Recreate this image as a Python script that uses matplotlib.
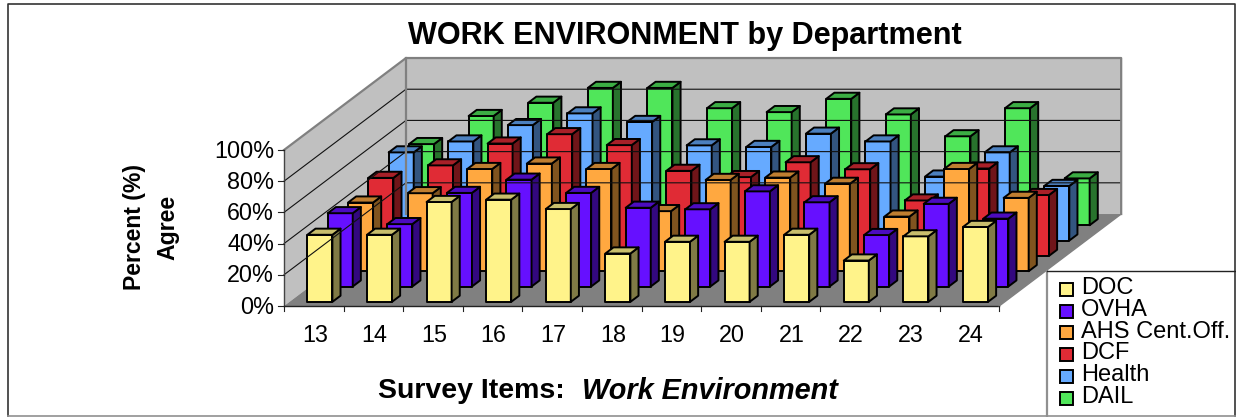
import matplotlib
matplotlib.use('Agg')
import matplotlib.pyplot as plt
from matplotlib.patches import Polygon, Rectangle

plt.rcParams['font.family'] = ['Liberation Sans', 'DejaVu Sans']

items = ['13', '14', '15', '16', '17', '18', '19', '20', '21', '22', '23', '24']
departments = ['DOC', 'OVHA', 'AHS Cent.Off.', 'DCF', 'Health', 'DAIL']
y_ticks = [0, 20, 40, 60, 80, 100]

doc = [43, 43, 64, 65.5, 59.5, 31, 38.5, 38.5, 43, 26.5, 42, 48]
ovha = [47, 40, 60, 68.5, 60, 50.5, 49.5, 61, 54, 33, 53, 43.5]
ahs = [44, 50, 65.5, 69, 65.5, 38.5, 58.5, 60, 56, 35, 65.5, 47]
dcf = [50, 58, 72, 78, 71, 54.5, 50.5, 60, 55.5, 35.5, 56, 39]
health = [56.5, 63.5, 74, 81.5, 76, 61, 60, 68.5, 63.5, 41, 56.5, 35]
dail = [52, 70, 78.5, 88, 88, 75, 72.5, 81, 71, 57, 75, 30]
series = [doc, ovha, ahs, dcf, health, dail]

# front, side, top
colors = [
    ('#FFF38A', '#807A45', '#C8BE6C'),
    ('#6610FF', '#33087F', '#4C0CBF'),
    ('#FFA840', '#80541F', '#BF7E30'),
    ('#E02B35', '#701519', '#A82028'),
    ('#66AAFF', '#335580', '#4C80BF'),
    ('#50E65A', '#28732D', '#3CAD44'),
]

X0, Y0 = 284, 306
CAT_W = 59.6
ROW_DX, ROW_DY = 20.33, 15.33
PX_PER_PCT = 1.56
LW = 1.4


def project(cat, row, val):
    # oblique projection of the 3d chart onto pixels
    return X0 + cat * CAT_W + row * ROW_DX, Y0 - val * PX_PER_PCT - row * ROW_DY


def face(ax, corners, fc, ec='none', lw=0):
    ax.add_patch(Polygon([project(*c) for c in corners], closed=True, fc=fc, ec=ec,
                         lw=lw, joinstyle='round'))


def draw_bar(ax, i, r, val, cols):
    x1, x2 = i + 0.3, i + 0.72
    d1, d2 = r + 0.27, r + 0.67
    face(ax, [(x1, d1, 0), (x2, d1, 0), (x2, d1, val), (x1, d1, val)], cols[0], 'black', LW)
    face(ax, [(x2, d1, 0), (x2, d2, 0), (x2, d2, val), (x2, d1, val)], cols[1], 'black', LW)
    face(ax, [(x1, d1, val), (x2, d1, val), (x2, d2, val), (x1, d2, val)], cols[2], 'black', LW)


fig = plt.figure(figsize=(12.36, 4.17), dpi=100)
ax = fig.add_axes([0, 0, 1, 1])
ax.set_xlim(0, 1236)
ax.set_ylim(417, 0)
ax.axis('off')

n_cat = len(items)
n_row = len(series)

# outer frame
ax.plot([8, 8, 1235, 1235], [416, 4, 4, 416], color='#333333', lw=1.2)
ax.plot([8, 1235], [416, 416], color='#909090', lw=1.2)

# walls and floor
face(ax, [(0, 0, 0), (0, n_row, 0), (0, n_row, 100), (0, 0, 100)], '#C0C0C0')
face(ax, [(0, n_row, 0), (n_cat, n_row, 0), (n_cat, n_row, 100), (0, n_row, 100)], '#C0C0C0')
face(ax, [(0, 0, 0), (n_cat, 0, 0), (n_cat, n_row, 0), (0, n_row, 0)], '#808080')

for v in y_ticks[1:-1]:
    pts = [project(0, 0, v), project(0, n_row, v), project(n_cat, n_row, v)]
    ax.plot(*zip(*pts), color='#111111', lw=0.8)

edge = [project(0, 0, 100), project(0, n_row, 100), project(n_cat, n_row, 100), project(n_cat, n_row, 0)]
ax.plot(*zip(*edge), color='#808080', lw=1.6)
edge = [project(0, n_row, 0), project(0, n_row, 100)]
ax.plot(*zip(*edge), color='#808080', lw=1.6)

# axes lines and ticks
ax.plot(*zip(project(0, 0, 0), project(0, 0, 100)), color='#444444', lw=1.0)
ax.plot(*zip(project(0, 0, 0), project(n_cat, 0, 0)), color='#222222', lw=1.0)
ax.plot(*zip(project(n_cat, 0, 0), project(n_cat, n_row, 0)), color='#808080', lw=1.0)
for v in y_ticks:
    x, y = project(0, 0, v)
    ax.plot([x - 6, x], [y, y], color='#222222', lw=0.8)
    ax.text(x - 10, y + 1, '%d%%' % v, ha='right', va='center', fontsize=16.8)
for i in range(n_cat + 1):
    x, y = project(i, 0, 0)
    ax.plot([x, x], [y, y + 5], color='#222222', lw=0.8)
for i, lab in enumerate(items):
    x, y = project(i + 0.5, 0, 0)
    ax.text(x + 1, 335, lab, ha='center', va='center', fontsize=16.8)

# bars back to front
for r in range(n_row - 1, -1, -1):
    for i in range(n_cat):
        draw_bar(ax, i, r, series[r][i], colors[r])

# text
ax.text(685, 36, 'WORK ENVIRONMENT by Department', ha='center', va='center',
        fontsize=22.1, fontweight='bold')
ax.text(378, 391, 'Survey Items:', ha='left', va='center', fontsize=20.5, fontweight='bold')
ax.text(582, 391, 'Work Environment', ha='left', va='center', fontsize=20.8,
        fontweight='bold', fontstyle='italic')
ax.text(134, 227, 'Percent (%)', ha='center', va='center', rotation=90, fontsize=16.6, fontweight='bold')
ax.text(168, 227, 'Agree', ha='center', va='center', rotation=90, fontsize=16.6, fontweight='bold')

# legend
ax.plot([1047, 1047], [416, 271], color='#909090', lw=1.6)
ax.plot([1047, 1235], [271, 271], color='#222222', lw=1.0)
leg_y = [289.5, 311, 332.5, 354, 376, 398]
for lab, cols, y in zip(departments, colors, leg_y):
    ax.add_patch(Rectangle((1060, y - 6.5), 13, 13, fc=cols[0], ec='black', lw=LW))
    ax.text(1081, y - 1, lab, ha='left', va='center', fontsize=17)

fig.savefig('out.png', dpi=100)
